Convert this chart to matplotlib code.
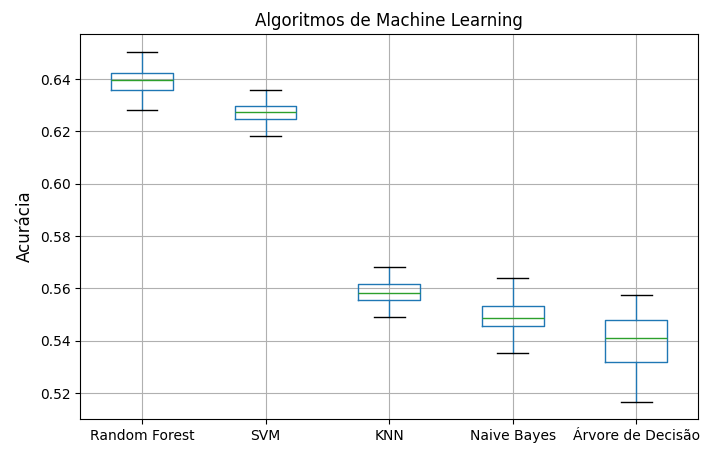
import matplotlib
matplotlib.use("Agg")
import matplotlib.pyplot as plt

# Dados
modelos = ["Random Forest", "SVM", "KNN", "Naive Bayes", "Árvore de Decisão"]
minimo = [0.6282, 0.6182, 0.5491, 0.5353, 0.5166]
q1 = [0.6358, 0.6247, 0.5555, 0.5456, 0.5319]
mediana = [0.6396, 0.6274, 0.5582, 0.5487, 0.5410]
q3 = [0.6423, 0.6297, 0.5617, 0.5533, 0.5479]
maximo = [0.6503, 0.6358, 0.5682, 0.5640, 0.5575]

stats = []
for i in range(len(modelos)):
    stats.append({"label": modelos[i], "whislo": minimo[i], "q1": q1[i],
                  "med": mediana[i], "q3": q3[i], "whishi": maximo[i], "fliers": []})

fig = plt.figure(figsize=(7.16, 4.5), dpi=100)
ax = fig.add_axes([0.112, 0.069, 0.863, 0.855])

ax.bxp(stats, showfliers=False,
       boxprops=dict(color="C0"), whiskerprops=dict(color="C0"),
       medianprops=dict(color="C2"), capprops=dict(color="black"))
ax.grid(True)
ax.set_axisbelow(True)
ax.set_ylim(0.5101, 0.6572)
ax.set_title("Algoritmos de Machine Learning", fontsize=12)
ax.set_ylabel("Acurácia", fontsize=12)

fig.savefig("out.png", dpi=100)
